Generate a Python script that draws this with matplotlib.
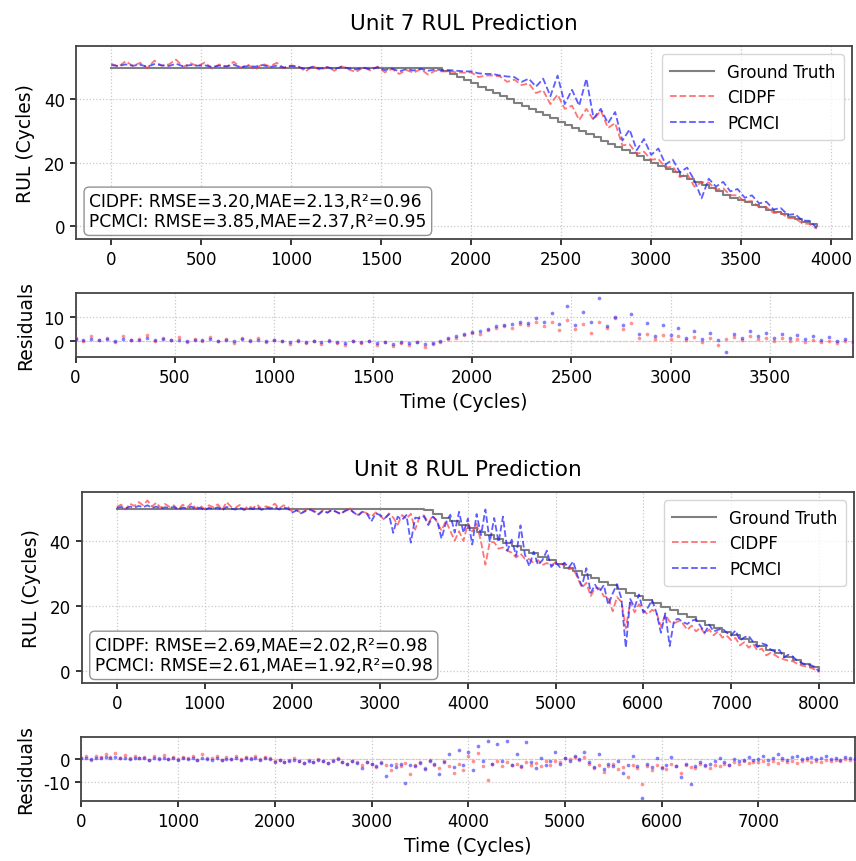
import numpy as np
import matplotlib
matplotlib.use("Agg")
import matplotlib.pyplot as plt

# ---------------- data ----------------
# Unit 7: samples every 40 cycles, 0..3920
t7 = np.arange(0, 3921, 40)
gt7 = ([50.0] * 46 +
       [49, 48, 47, 46, 45, 44, 43, 42, 41, 40, 39, 38, 37, 36, 35, 34, 33, 32, 31, 30,
        29, 28, 27, 26, 25, 24, 23, 22, 21, 20, 19, 18, 17, 16, 15, 14, 13, 12, 11, 10, 9] +
       [8.25, 7.5, 6.75, 6.0, 5.25, 4.5, 3.75, 3.0, 2.25, 1.5, 0.75, 0.0])
res7_cidpf = [1.2, 0.3, 2.0, 0.5, 1.5, -0.2, 2.2, 0.6, 1.0, 2.5, 0.2, 1.4, 0.4,
              1.6, -0.3, 1.0, 0.2, 1.8, 0.0, 0.9, -0.6, 1.2, 0.4, 1.5, -0.2, 0.7,
              0.3, -1.2, 0.5, -0.8, 0.2, -1.0, 0.4, -0.6, -1.4, 0.1, -0.9, 0.3,
              -1.5, -0.4, -2.0, -0.8, -1.6, -0.5, -2.2,
              -1.0, -0.2, 0.8, 1.5, 2.4, 3.5, 3.0, 4.5, 5.5, 6.2, 5.5, 7.2, 6.5, 8.0, 6.0,
              7.8, 4.5, 8.5, 5.0, 7.0, 3.5, 8.0, 5.5, 9.5, 5.0, 7.5,
              1.5, 2.8, 0.8, 2.5, 1.0, 2.2, 0.5, 1.8, -0.5, 1.5, -1.5, 0.8, 1.8, 0.5,
              2.0, 0.8, 1.5, 0.2, 1.2, 0.0, 0.8, -0.3, 0.6, -0.4, 0.3, -0.6, 0.0, -0.8]
res7_pcmci = [0.8, 0.5, 1.0, 0.6, 0.9, 0.3, 1.1, 0.7, 0.5, 1.2, 0.4, 0.8, 0.6,
              0.7, 0.2, 0.6, 0.4, 0.9, 0.1, 0.5, 0.3, 0.8, 0.2, 0.6, 0.0, 0.5,
              0.2, -0.5, 0.3, -0.3, 0.1, -0.4, 0.2, -0.2, -0.6, 0.0, -0.5, 0.1,
              -0.8, -0.3, -1.2, -0.5, -0.9, -0.4, -1.0,
              -0.6, 0.2, 1.2, 2.0, 2.8, 3.8, 4.2, 5.0, 6.0, 6.5, 7.2, 8.0, 7.5, 9.5, 8.0,
              11.5, 7.0, 14.5, 6.5, 12.0, 8.0, 17.5, 6.0, 10.0, 6.5, 11.0,
              3.0, 7.5, 2.0, 6.5, 2.5, 5.5, 1.5, 4.0, 1.0, 3.5, 0.5, -4.2, 3.0, 1.5,
              4.0, 2.0, 3.5, 1.5, 3.0, 1.2, 2.5, 0.8, 2.0, 0.6, 1.6, 0.3, 1.0, -0.5]

# Unit 8: samples every 50 cycles, 0..8000 (ground truth read every 100 cycles)
t8 = np.arange(0, 8001, 50)
gt8_100 = ([50.0] * 35 +
           [49.4, 48.3, 47.2, 46.1, 45.0, 43.9, 42.8, 41.7, 40.6, 39.5, 38.4, 37.3, 36.2,
            35.1, 34.0, 32.9, 31.8, 30.7, 29.6, 28.5, 27.4, 26.3, 25.2, 24.1, 23.0, 21.9,
            20.8, 19.7, 18.6, 17.5, 16.4, 15.3, 14.2, 13.1, 12.0, 10.9, 9.8, 8.7, 7.6,
            6.5, 5.4, 4.3, 3.2, 2.1, 1.0, 0.0])
res8_cidpf = [0.5, 1.2, -0.3, 1.5, 0.8, 2.0, 1.0, 2.5, 0.6, 1.8,
              0.2, 1.4, 0.5, 1.0, -0.4, 1.2, 0.3, 1.6, 0.0, 0.9,
              -0.2, 1.0, 0.4, 1.3, -0.5, 2.0, 0.6, 0.2, 1.1, -0.3,
              0.8, 0.1, 1.2, -0.2, 0.7, 0.3, 1.5, 0.0, 1.0, 0.5,
              -1.0, -0.3, -1.5, -0.5, 0.2, -0.8, -1.6, -0.4, -1.2, -0.2,
              -1.0, -1.8, -0.6, 0.3, -1.3, -2.0, -0.8, -1.5, -2.5, -1.2,
              -2.2, -3.5, -1.5, -2.8, -5.0, -2.0, -3.2, -1.6, -6.5, -2.5,
              -1.5, -3.8, -0.5, -2.5, -4.0, -1.0, -3.0, -6.0, -2.0, -5.0,
              1.5, -1.0, 2.5, -3.0, -9.0, -2.0, -1.0, -3.0, -1.5, -2.5,
              -2.0, -3.5, -1.2, -2.8, -1.8, -3.0, -1.0, -2.5, -0.8, -1.5,
              0.5, 0.0, 1.0, -0.5, 0.8, -2.0, -4.0, -2.5, -5.5, -3.0,
              -2.0, -4.5, -3.5, -8.0, -2.5, -4.0, -11.0, -3.0, -5.0, -2.5,
              -3.5, -4.5, -2.0, -3.0, -6.0, -2.5, -3.5, -4.0, -2.2, -3.0,
              -3.8, -2.5, -3.2, -2.0, -2.8, -1.5, -2.2, -1.0, -1.8, -1.2,
              -1.5, -0.8, -2.0, -1.0, -1.6, -0.5, -1.4, -0.8, -1.8, -1.0,
              -0.6, -1.5, -0.8, -1.2, -0.3, -1.0, -0.5, -0.8, 0.0, -0.6, -0.4]
res8_pcmci = [0.2, 0.5, 0.0, 0.6, 0.3, 0.8, 0.4, 1.0, 0.2, 0.6,
              0.0, 0.4, 0.2, 0.5, -0.3, 0.3, 0.1, 0.6, -0.2, 0.3,
              -0.5, 0.2, -0.1, 0.4, -0.6, 0.5, 0.0, -0.3, 0.3, -0.4,
              0.1, -0.2, 0.4, -0.4, 0.2, 0.0, 0.5, -0.3, 0.3, 0.0,
              -1.2, -0.6, -1.5, -0.8, -0.3, -1.0, -1.8, -0.7, -1.3, -0.5,
              -1.0, -1.6, -0.8, -0.2, -1.2, -2.2, -1.0, -1.6, -4.0, -1.5,
              -2.0, -3.0, -1.8, -7.5, -2.5, -3.5, -2.0, -10.5, -2.8, -3.0,
              -1.8, -4.5, -0.8, -2.0, -6.5, -1.5, 2.0, -3.5, 4.0, -2.5,
              3.0, -5.0, 5.5, -1.0, 8.0, -2.0, 6.5, -1.0, 8.0, -2.5,
              2.0, -3.0, 7.5, -1.5, -4.0, 0.5, -2.5, -1.0, 3.0, -2.0,
              0.5, -1.0, 1.5, 0.0, 3.0, -1.5, -3.5, 2.0, -4.5, -2.0,
              -3.0, -1.0, -6.0, -2.5, 1.5, -3.0, -17.0, -2.0, -3.5, 0.5,
              -4.0, -2.5, 1.0, -3.0, -8.0, -2.0, -11.0, -3.0, -1.5, -2.5,
              -2.0, -1.0, 0.5, -1.5, -2.5, 0.0, -1.0, -0.5, 1.0, -0.3,
              0.0, 1.5, -0.5, 0.5, 2.0, 0.2, -0.3, 0.8, 1.5, 0.0,
              0.5, 1.0, -0.2, 0.6, 1.2, 0.0, 0.4, -0.3, 0.8, 0.2, -0.2]

stats7 = "CIDPF: RMSE=3.20,MAE=2.13,R\u00b2=0.96\nPCMCI: RMSE=3.85,MAE=2.37,R\u00b2=0.95"
stats8 = "CIDPF: RMSE=2.69,MAE=2.02,R\u00b2=0.98\nPCMCI: RMSE=2.61,MAE=1.92,R\u00b2=0.98"

gt7 = np.array(gt7, dtype=float)
gt8 = np.repeat(np.array(gt8_100, dtype=float), 2)[:len(t8)]
res7_cidpf = np.array(res7_cidpf); res7_pcmci = np.array(res7_pcmci)
res8_cidpf = np.array(res8_cidpf); res8_pcmci = np.array(res8_pcmci)

# ---------------- style ----------------
plt.rcParams['font.family'] = ['DejaVu Sans']
plt.rcParams['axes.edgecolor'] = '#444444'
plt.rcParams['axes.linewidth'] = 1.3
plt.rcParams['xtick.labelsize'] = 12
plt.rcParams['ytick.labelsize'] = 12
plt.rcParams['xtick.major.size'] = 4.5
plt.rcParams['ytick.major.size'] = 4.5
plt.rcParams['xtick.major.width'] = 1.1
plt.rcParams['ytick.major.width'] = 1.1

RED = '#ff3b3b'
BLUE = '#1a1aff'

W, H = 856, 862
fig = plt.figure(figsize=(W / 100, H / 100), dpi=100)


def box(l, t, r, b):
    return [l / W, 1 - b / H, (r - l) / W, (b - t) / H]


def draw_unit(ax, axr, t, gt, rc, rp, title, stats, ylim, rylim):
    pc = gt + rc
    pp = gt + rp
    ax.plot(t, gt, drawstyle='steps-post', color='gray', lw=1.5, label='Ground Truth', zorder=2)
    ax.plot(t, pc, '--', color=RED, alpha=0.7, lw=1.3, label='CIDPF', zorder=3)
    ax.plot(t, pp, '--', color=BLUE, alpha=0.7, lw=1.3, label='PCMCI', zorder=3)
    ax.set_ylim(*ylim)
    ax.set_ylabel('RUL (Cycles)', fontsize=13.5, labelpad=6)
    ax.set_title(title, fontsize=15.5, pad=12)
    ax.grid(True, linestyle=':', color='#c8c8c8', lw=0.9)
    ax.legend(loc='upper right', fontsize=12, framealpha=0.8, handlelength=2.6,
              borderpad=0.5, labelspacing=0.45)
    ax.text(0.017, 0.045, stats, transform=ax.transAxes, fontsize=12.3, va='bottom', ha='left',
            linespacing=1.15,
            bbox=dict(boxstyle='round,pad=0.3', facecolor='white', alpha=0.85, edgecolor='gray'))

    axr.scatter(t, rc, s=7, color=RED, alpha=0.55, lw=0, zorder=3)
    axr.scatter(t, rp, s=7, color=BLUE, alpha=0.55, lw=0, zorder=3)
    axr.axhline(0, color='red', ls='--', lw=0.8, alpha=0.25, zorder=1)
    axr.set_xlim(t[0], t[-1])
    axr.set_ylim(*rylim)
    axr.set_ylabel('Residuals', fontsize=13.5, labelpad=6)
    axr.set_xlabel('Time (Cycles)', fontsize=13.5)
    axr.grid(True, linestyle=':', color='#c8c8c8', lw=0.9)


ax7 = fig.add_axes(box(76, 47, 852, 240))
ax7r = fig.add_axes(box(75.5, 294, 853, 358))
ax8 = fig.add_axes(box(81.7, 493, 854, 684))
ax8r = fig.add_axes(box(81.4, 738, 855, 802))

draw_unit(ax7, ax7r, t7, gt7, res7_cidpf, res7_pcmci, 'Unit 7 RUL Prediction', stats7,
          (-4.0, 56.8), (-6.4, 19.6))
draw_unit(ax8, ax8r, t8, gt8, res8_cidpf, res8_pcmci, 'Unit 8 RUL Prediction', stats8,
          (-3.8, 55.1), (-18.4, 9.6))
ax7r.set_xticks([0, 500, 1000, 1500, 2000, 2500, 3000, 3500])
ax8r.set_xticks([0, 1000, 2000, 3000, 4000, 5000, 6000, 7000])
ax8r.set_yticks([-10, 0])
ax8r.set_yticklabels(['-10', '0'])

fig.savefig('out.png', dpi=100)
